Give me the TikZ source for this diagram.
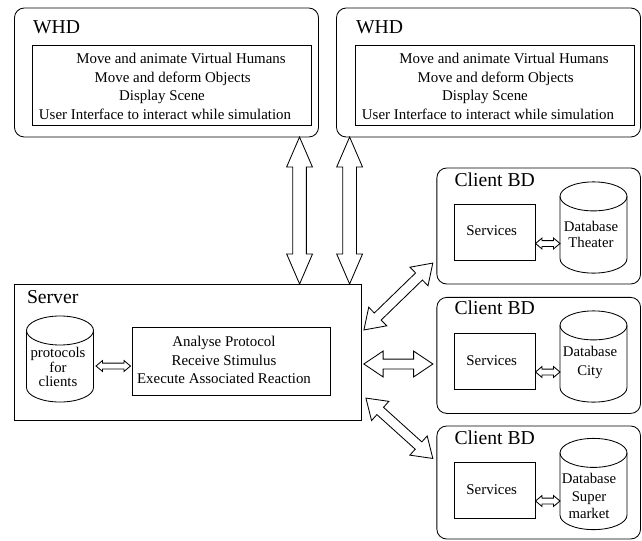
\documentclass[tikz,border=0pt]{standalone}
\usepackage{fontspec}
\setmainfont{Liberation Serif}
\usetikzlibrary{calc,shapes.arrows}
\tikzset{
  every node/.style={inner sep=0pt,outer sep=0pt},
  whdbox/.style={draw,rounded corners=7pt,minimum width=7.6cm,minimum height=3.225cm},
  clientbox/.style={draw,rounded corners=7pt,minimum width=5.09cm,minimum height=2.9cm},
  innerbox/.style={draw,minimum width=6.99cm,minimum height=2cm},
  servicebox/.style={draw,minimum width=2.025cm,minimum height=1.4cm},
  dbcyl/.style={minimum width=1.675cm,minimum height=2.28cm},
  dbtext/.style={align=center,font=\fontsize{10.5}{#1}\selectfont},
  title/.style={anchor=west,text height=9.5pt,text depth=0pt,font=\fontsize{14}{16}\selectfont},
  line/.style={text height=7pt,text depth=2pt,font=\fontsize{10.6}{12}\selectfont},
  hollow/.style n args={3}{to path={let \p1=($(\tikztotarget)-(\tikztostart)$) in
    node[draw,double arrow,inner ysep=#1,double arrow head extend=#2,double arrow tip angle=#3,
      rotate={atan2(\y1,\x1)},minimum height={veclen(\x1,\y1)}]
      at ($(\tikztostart)!.5!(\tikztotarget)$) {}}},
  vertarrow/.style={hollow={4.55pt}{4.34pt}{46.6}},
  bigarrow/.style={hollow={3.2pt}{5.7pt}{67.8}},
  smallarrow/.style={hollow={1.78pt}{1.8pt}{80}}
}
\newcommand{\drawdb}[1]{
    \draw (#1.north) ++(0,14.5) ellipse [x radius=33.5,y radius=14.5];
    \draw ([yshift=-14.5*0.025cm]#1.north west) -- ([yshift=14.5*0.025cm]#1.south west)
      arc [start angle=180,end angle=0,x radius=33.5,y radius=14.5] -- ([yshift=-14.5*0.025cm]#1.north east);
}
\begin{document}
\begin{tikzpicture}[x=0.025cm,y=-0.025cm,line width=0.6pt]
    \useasboundingbox (0,0) rectangle (642,540);

    % the two WHD
    \node[whdbox] (whda) at (166.5,72.5) {};
    \node[title] (whdatitle) at (33,27) {WHD};
    \node[innerbox] (whdain) at (172,85) {};
    \node[line] (whdaone) at (181,60) {Move and animate Virtual Humans};
    \node[line] (whdatwo) at (172.7,78.5) {Move and deform Objects};
    \node[line] (whdathree) at (162,97) {Display Scene};
    \node[line] (whdafour) at (165,116) {User Interface to interact while simulation};

    \node[whdbox] (whdb) at (488.5,72.5) {};
    \node[title] (whdbtitle) at (356,27) {WHD};
    \node[innerbox] (whdbin) at (495,85) {};
    \node[line] (whdbone) at (504,60) {Move and animate Virtual Humans};
    \node[line] (whdbtwo) at (495.7,78.5) {Move and deform Objects};
    \node[line] (whdbthree) at (485,97) {Display Scene};
    \node[line] (whdbfour) at (488,116) {User Interface to interact while simulation};

    % server
    \node[draw,minimum width=8.69cm,minimum height=3.4cm] (server) at (188,352) {};
    \node[title] (servertitle) at (27,297) {Server};
    \node[dbcyl,minimum height=2.15cm] (protocols) at (60,359) {};
    \drawdb{protocols}
    \node[dbtext=9.6] (protocolstext) at (58,367) {protocols\\for\\clients};
    \node[draw,minimum width=4.965cm,minimum height=1.7cm] (reaction) at (231.3,361) {};
    \node[align=center,font=\fontsize{10.6}{13.2}\selectfont] (reactiontext) at (224,360) {Analyse Protocol\\Receive Stimulus\\Execute Associated Reaction};

    % clients
    \node[clientbox] (cla) at (538.7,226) {};
    \node[title] (clatitle) at (454.5,180) {Client BD};
    \node[servicebox] (svca) at (495,232.5) {};
    \node[line] (svcatext) at (491.7,231.5) {Services};
    \node[dbcyl] (dba) at (593.5,227.5) {};
    \drawdb{dba}
    \node[dbtext=11] (dbatext) at (591,234.5) {Database\\Theater};

    \node[clientbox] (clb) at (538.7,355.4) {};
    \node[title] (clbtitle) at (454.5,308) {Client BD};
    \node[servicebox] (svcb) at (495,361) {};
    \node[line] (svcbtext) at (491.7,361.5) {Services};
    \node[dbcyl] (dbb) at (593.5,356.5) {};
    \drawdb{dbb}
    \node[dbtext=13] (dbbtext) at (590,362.5) {Database\\City};

    \node[clientbox,minimum height=2.825cm] (clc) at (538.7,482.5) {};
    \node[title] (clctitle) at (454.5,438) {Client BD};
    \node[servicebox] (svcc) at (495,490) {};
    \node[line] (svcctext) at (491.7,490.5) {Services};
    \node[dbcyl] (dbc) at (593.5,484) {};
    \drawdb{dbc}
    \node[dbtext=12.5] (dbctext) at (589,496) {Database\\Super\\market};

    % connectors
    \draw[vertarrow] ([shift={(133,0)}]whda.south) to ([shift={(111.6,0)}]server.north);
    \draw[vertarrow] ([shift={(-138.9,0)}]whdb.south) to ([shift={(161.6,0)}]server.north);
    \draw[bigarrow] ([shift={(2,-22)}]server.east) to ([shift={(-4,37)}]cla.west);
    \draw[bigarrow] ([shift={(2,12)}]server.east) to ([shift={(-4,8.6)}]clb.west);
    \draw[bigarrow] ([shift={(4,46)}]server.east) to ([shift={(-4,-24)}]clc.west);
    \draw[smallarrow] ([shift={(2.5,7)}]protocols.east) to ([shift={(-1.5,5)}]reaction.west);
    \draw[smallarrow] ([shift={(0,11)}]svca.east) to ([shift={(0,16)}]dba.west);
    \draw[smallarrow] ([shift={(0,11)}]svcb.east) to ([shift={(0,15.5)}]dbb.west);
    \draw[smallarrow] ([shift={(0,11)}]svcc.east) to ([shift={(0,17)}]dbc.west);
\end{tikzpicture}
\end{document}
